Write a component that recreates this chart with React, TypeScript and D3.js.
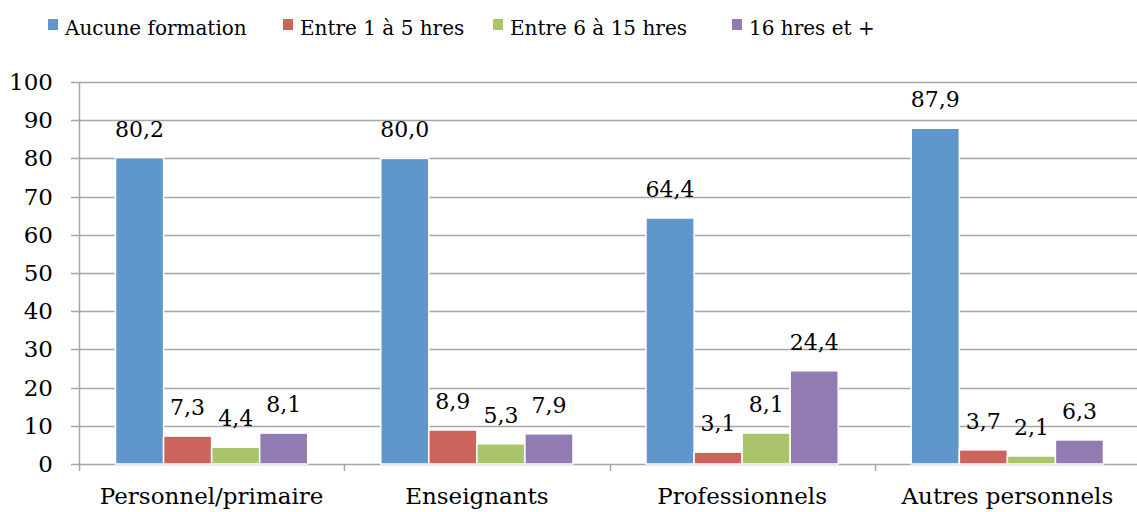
import React, { useRef, useEffect } from "react";
import * as d3 from "d3";

const categories = ["Personnel/primaire", "Enseignants", "Professionnels", "Autres personnels"];
const seriesNames = ["Aucune formation", "Entre 1 à 5 hres", "Entre 6 à 15 hres", "16 hres et +"];
const aucune = [80.2, 80.0, 64.4, 87.9];
const entre1a5 = [7.3, 8.9, 3.1, 3.7];
const entre6a15 = [4.4, 5.3, 8.1, 2.1];
const plus16 = [8.1, 7.9, 24.4, 6.3];
const yTicks = [0, 10, 20, 30, 40, 50, 60, 70, 80, 90, 100];
const colors = ["#5f96cc", "#cd635d", "#a9c46a", "#927ab2"];

const App = () => {
  const svgRef = useRef<SVGSVGElement>(null);

  useEffect(() => {
    const w = 1137;
    const h = 512;
    const margin = { top: 82, right: 0, bottom: 48, left: 79 };
    const font = "'DejaVu Serif', serif";
    const series = [aucune, entre1a5, entre6a15, plus16];

    const svg = d3.select(svgRef.current);
    svg.selectAll("*").remove();
    svg.attr("width", w).attr("height", h).style("display", "block");

    const x0 = d3.scaleBand().domain(categories).range([margin.left, 1140]);
    const x1 = d3
      .scaleBand<number>()
      .domain(d3.range(series.length))
      .range([0, x0.bandwidth()])
      .paddingOuter(0.76)
      .paddingInner(0.0);
    const y = d3.scaleLinear().domain([0, 100]).range([h - margin.bottom, margin.top]);

    // grid
    svg
      .append("g")
      .selectAll("line")
      .data(yTicks)
      .join("line")
      .attr("x1", margin.left - 8)
      .attr("x2", w)
      .attr("y1", (d) => Math.round(y(d)) + 0.5)
      .attr("y2", (d) => Math.round(y(d)) + 0.5)
      .attr("stroke", "#a6a6a6")
      .attr("stroke-width", 1.5);

    // y axis line
    svg
      .append("line")
      .attr("x1", margin.left + 0.5)
      .attr("x2", margin.left + 0.5)
      .attr("y1", y(100))
      .attr("y2", y(0) + 7)
      .attr("stroke", "#a6a6a6")
      .attr("stroke-width", 1.5);

    // category ticks
    svg
      .append("g")
      .selectAll("line")
      .data(categories.slice(1))
      .join("line")
      .attr("x1", (d) => Math.round(x0(d)!) + 0.5)
      .attr("x2", (d) => Math.round(x0(d)!) + 0.5)
      .attr("y1", y(0))
      .attr("y2", y(0) + 7)
      .attr("stroke", "#a6a6a6")
      .attr("stroke-width", 1.5);

    // y labels
    svg
      .append("g")
      .selectAll("text")
      .data(yTicks)
      .join("text")
      .attr("x", margin.left - 26)
      .attr("y", (d) => y(d))
      .attr("dy", "0.35em")
      .attr("text-anchor", "end")
      .attr("font-family", font)
      .attr("font-size", 23)
      .attr("fill", "#000")
      .text((d) => d);

    // bars
    const groups = svg
      .append("g")
      .selectAll("g")
      .data(categories)
      .join("g")
      .attr("transform", (d) => `translate(${x0(d)},0)`);

    groups
      .selectAll("rect")
      .data((_, ci) => series.map((s, si) => ({ si, v: s[ci] })))
      .join("rect")
      .attr("x", (d) => x1(d.si)!)
      .attr("y", (d) => y(d.v))
      .attr("width", x1.bandwidth())
      .attr("height", (d) => y(0) - y(d.v))
      .attr("fill", (d) => colors[d.si])
      .attr("stroke", "#fff")
      .attr("stroke-width", 1.5);

    groups
      .selectAll("text")
      .data((_, ci) => series.map((s, si) => ({ si, v: s[ci] })))
      .join("text")
      .attr("x", (d) => x1(d.si)! + x1.bandwidth() / 2)
      .attr("y", (d) => y(d.v) - 21)
      .attr("text-anchor", "middle")
      .attr("font-family", font)
      .attr("font-size", 22)
      .attr("fill", "#000")
      .text((d) => d.v.toFixed(1).replace(".", ","));

    // category labels
    svg
      .append("g")
      .selectAll("text")
      .data(categories)
      .join("text")
      .attr("x", (d) => x0(d)! + x0.bandwidth() / 2)
      .attr("y", h - 8)
      .attr("text-anchor", "middle")
      .attr("font-family", font)
      .attr("font-size", 23)
      .attr("fill", "#000")
      .text((d) => d);

    // legend
    const legendX = [48, 283, 493, 732];
    const legend = svg
      .append("g")
      .selectAll("g")
      .data(seriesNames)
      .join("g")
      .attr("transform", (_, i) => `translate(${legendX[i]},0)`);
    legend
      .append("rect")
      .attr("x", 0)
      .attr("y", 19)
      .attr("width", 10)
      .attr("height", 11)
      .attr("fill", (_, i) => colors[i]);
    legend
      .append("text")
      .attr("x", 17)
      .attr("y", 35)
      .attr("font-family", font)
      .attr("font-size", 20)
      .attr("fill", "#000")
      .text((d) => d);
  }, []);

  return <svg ref={svgRef} style={{ position: "absolute", left: 0, top: 0 }}></svg>;
};

export default App;
